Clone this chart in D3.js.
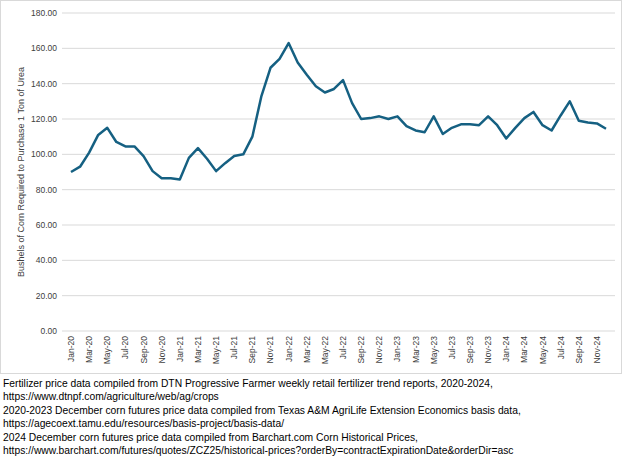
<script src="https://d3js.org/d3.v7.min.js"></script>
<style>body{margin:0;background:#fff;font-family:Arial,"Liberation Sans",sans-serif}</style>
<svg id="c" width="624" height="462"></svg>
<script>
var months = ["Jan","Feb","Mar","Apr","May","Jun","Jul","Aug","Sep","Oct","Nov","Dec"];
var years = ["20","21","22","23","24"];
var labels = [];
years.forEach(function(y){ months.forEach(function(m){ labels.push(m + "-" + y); }); });
var values = [90,93,101,111,115,107,104.5,104.5,99,90.5,86.5,86.5,
  85.8,98,103.5,97.5,90.5,95,99,100,110,133,149,154,
  163,152,145,138.5,135,137,142,129,120,120.5,121.5,120,
  121.5,116,113.5,112.5,121.5,111.5,115,117,117,116.5,121.5,116.5,
  109,115,120.5,124,116.5,113.5,122,130,119,118,117.5,114.5];
var yTicks = [0,20,40,60,80,100,120,140,160,180];
var notes = ["Fertilizer price data compiled from DTN Progressive Farmer weekly retail fertilizer trend reports, 2020-2024,",
  "https://www.dtnpf.com/agriculture/web/ag/crops",
  "2020-2023 December corn futures price data compiled from Texas A&M AgriLife Extension Economics basis data,",
  "https://agecoext.tamu.edu/resources/basis-project/basis-data/",
  "2024 December corn futures price data compiled from Barchart.com Corn Historical Prices,",
  "https://www.barchart.com/futures/quotes/ZCZ25/historical-prices?orderBy=contractExpirationDate&orderDir=asc"];

var svg = d3.select("#c");
svg.append("rect").attr("x",0.5).attr("y",0.5).attr("width",621).attr("height",373)
  .attr("fill","none").attr("stroke","#d9d9d9");

var x = d3.scalePoint().domain(labels).range([71,606]);
var y = d3.scaleLinear().domain([0,180]).range([331,13]);

svg.append("g").selectAll("line").data(yTicks).join("line")
  .attr("x1",62).attr("x2",615).attr("y1",d=>y(d)).attr("y2",d=>y(d))
  .attr("stroke","#d9d9d9").attr("stroke-width",1);

svg.append("g").selectAll("text").data(yTicks).join("text")
  .attr("x",57).attr("y",d=>y(d)+3).attr("text-anchor","end")
  .attr("font-size",8.5).attr("fill","#404040").text(d=>d.toFixed(2));

svg.append("g").selectAll("text").data(labels.filter((d,i)=>i%2==0)).join("text")
  .attr("transform",d=>"translate("+(x(d)+3)+",336) rotate(-90)")
  .attr("text-anchor","end").attr("font-size",8.5).attr("fill","#404040").text(d=>d);

svg.append("text").attr("transform","translate(24,172) rotate(-90)")
  .attr("text-anchor","middle").attr("font-size",9).attr("fill","#404040")
  .text("Bushels of Corn Required to Purchase 1 Ton of Urea");

svg.append("path").datum(values)
  .attr("d", d3.line().x((d,i)=>x(labels[i])).y(d=>y(d)))
  .attr("fill","none").attr("stroke","#156082").attr("stroke-width",2.5)
  .attr("stroke-linejoin","round");

svg.append("g").selectAll("text").data(notes).join("text")
  .attr("x",3).attr("y",(d,i)=>387+i*13.4).attr("font-size",10.3).attr("fill","#000").text(d=>d);
</script>
